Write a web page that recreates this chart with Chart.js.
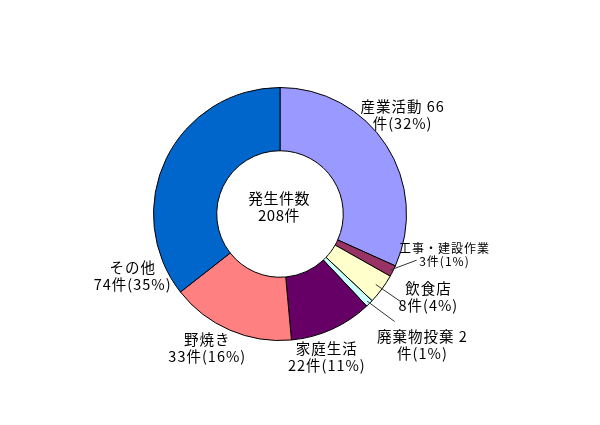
<!DOCTYPE html>
<html>
<head>
<meta charset="utf-8">
<script src="https://cdn.jsdelivr.net/npm/chart.js@4"></script>
<style>
    body { margin: 0; background: #fff; }
</style>
</head>
<body>
<canvas id="chart" width="600" height="425"></canvas>
<script>
const categories = ['産業活動', '工事・建設作業', '飲食店', '廃棄物投棄', '家庭生活', '野焼き', 'その他']
const counts = [66, 3, 8, 2, 22, 33, 74]
const percents = [32, 1, 4, 1, 11, 16, 35]
// ラベルの改行位置 (true: 件数の後ろで改行)
const breakAfterCount = [true, false, false, true, false, false, false]
const totalLabel = ['発生件数', '208件']

const colors = ['#9999FF', '#993366', '#FFFFCC', '#CCFFFF', '#660066', '#FF8080', '#0066CC']

// ラベル位置 (中心からの位置, 外半径を1とする)
const labelPos = [
    { x: 0.969, y: -0.78, size: 14.5 },
    { x: 1.3, y: 0.327, size: 12, gap: 13, line: { r: 0.98, x: 1.08, y: 0.365 } },
    { x: 1.173, y: 0.654, size: 14.5, line: { r: 0.94, x: 0.955, y: 0.693 } },
    { x: 1.126, y: 1.035, size: 14.5, line: { r: 0.975, x: 0.906, y: 0.85 } },
    { x: 0.37, y: 1.13, size: 14.5 },
    { x: -0.575, y: 1.059, size: 14.5 },
    { x: -1.165, y: 0.492, size: 14.5 }
]

const FONT = '"Noto Sans CJK JP", "Noto Sans", sans-serif'

const labelLines = i => breakAfterCount[i]
    ? [`${categories[i]} ${counts[i]}`, `件(${percents[i]}%)`]
    : [categories[i], `${counts[i]}件(${percents[i]}%)`]

const sliceLabels = {
    id: 'sliceLabels',
    afterDatasetsDraw(chart) {
        const ctx = chart.ctx
        const arcs = chart.getDatasetMeta(0).data
        ctx.save()
        ctx.fillStyle = '#000'
        ctx.textAlign = 'center'
        ctx.textBaseline = 'middle'
        ctx.letterSpacing = '1px'

        arcs.forEach((arc, i) => {
            const { x: cx, y: cy, outerRadius: r, startAngle, endAngle } = arc.getProps(['x', 'y', 'outerRadius', 'startAngle', 'endAngle'], true)
            const pos = labelPos[i]
            const lx = cx + pos.x * r
            const ly = cy + pos.y * r
            const gap = pos.gap || 17

            if (pos.line) {
                const mid = (startAngle + endAngle) / 2
                ctx.beginPath()
                ctx.strokeStyle = '#333'
                ctx.lineWidth = 1
                ctx.moveTo(cx + Math.cos(mid) * r * pos.line.r, cy + Math.sin(mid) * r * pos.line.r)
                ctx.lineTo(cx + pos.line.x * r, cy + pos.line.y * r)
                ctx.stroke()
            }

            ctx.font = `${pos.size}px ${FONT}`
            const lines = labelLines(i)
            ctx.fillText(lines[0], lx, ly - gap / 2)
            ctx.fillText(lines[1], lx, ly + gap / 2)
        })

        // 中央の合計
        const { x, y } = arcs[0]
        ctx.font = `15px ${FONT}`
        ctx.letterSpacing = '0.5px'
        ctx.fillText(totalLabel[0], x - 1, y - 16)
        ctx.fillText(totalLabel[1], x - 1, y + 1)
        ctx.restore()
    }
}

const drawChart = () => {

    const data = {
        labels: categories,
        datasets: [{
            data: counts,
            backgroundColor: colors,
            borderColor: '#000',
            borderWidth: 1
        }]
    }

    const options = {
        responsive: false,
        animation: false,
        cutout: '50%',
        layout: {
            padding: { top: 87, bottom: 84, left: 153, right: 193 }
        },
        plugins: {
            legend: { display: false },
            tooltip: { enabled: false }
        }
    }

    new Chart('chart', {
        type: 'doughnut',
        data,
        options,
        plugins: [sliceLabels]
    })
}

drawChart()
</script>
</body>
</html>
